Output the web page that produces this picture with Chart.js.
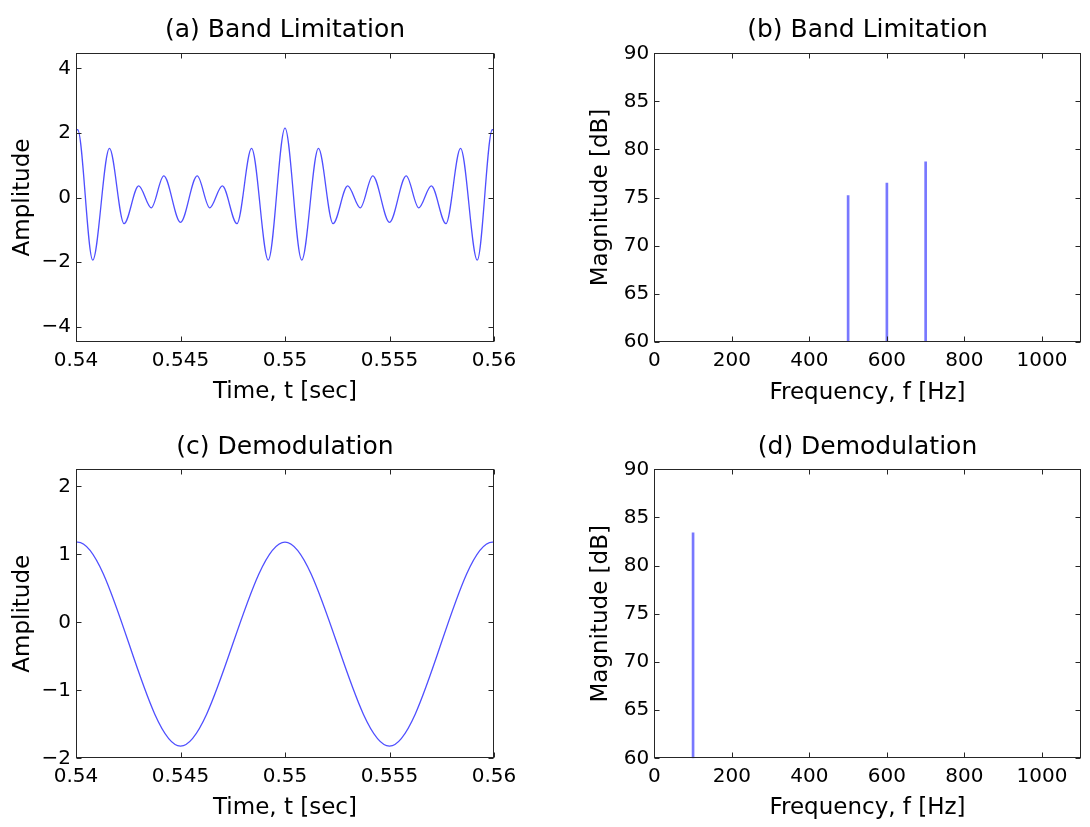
<!DOCTYPE html>
<html>
<head>
<meta charset="utf-8">
<title>Band Limitation / Demodulation</title>
<script src="https://cdn.jsdelivr.net/npm/chart.js@4.4.1/dist/chart.umd.min.js"></script>
<style>
  html, body { margin: 0; padding: 0; background: #fff; }
  #wrap { position: relative; width: 1090px; height: 827px; overflow: hidden; }
  canvas { position: absolute; }
</style>
</head>
<body>
<div id="wrap">
  <canvas id="pa" width="545" height="413" style="left:0;top:0;width:545px;height:413px"></canvas>
  <canvas id="pb" width="545" height="413" style="left:545px;top:0;width:545px;height:413px"></canvas>
  <canvas id="pc" width="545" height="414" style="left:0;top:413px;width:545px;height:414px"></canvas>
  <canvas id="pd" width="545" height="414" style="left:545px;top:413px;width:545px;height:414px"></canvas>
</div>
<script>
// ─── Data ────────────────────────────────────────────────────────────────────
const timeTicks      = [0.54, 0.545, 0.55, 0.555, 0.56];
const timeTickLabels = ['0.54', '0.545', '0.55', '0.555', '0.56'];
const freqTicks      = [0, 200, 400, 600, 800, 1000];
const dbTicks        = [60, 65, 70, 75, 80, 85, 90];
const ampTicksA      = [-4, -2, 0, 2, 4];
const ampTicksC      = [-2, -1, 0, 1, 2];

// (a) band-limited signal, peaks and troughs
const timeA = [0.54, 0.54008, 0.5408, 0.5416, 0.5423, 0.5430, 0.5436, 0.5442, 0.5450,
               0.5458, 0.5464, 0.5470, 0.5477, 0.5484, 0.5492, 0.5500,
               0.5508, 0.5516, 0.5523, 0.5530, 0.5536, 0.5542, 0.5550,
               0.5558, 0.5564, 0.5570, 0.5577, 0.5584, 0.5592, 0.55992, 0.56];
const ampA  = [2.1, 2.1, -1.94, 1.52, -0.81, 0.36, -0.32, 0.67, -0.77,
               0.67, -0.32, 0.36, -0.81, 1.52, -1.94, 2.15,
               -1.94, 1.52, -0.81, 0.36, -0.32, 0.67, -0.77,
               0.67, -0.32, 0.36, -0.81, 1.52, -1.94, 2.1, 2.1];

// (b) spectrum after band limitation
const freqB = [500, 600, 700];
const magB  = [75.2, 76.5, 78.7];

// (c) demodulated signal, peaks and troughs
const timeC = [0.54, 0.54008, 0.545, 0.55, 0.555, 0.55992, 0.56];
const ampC  = [1.18, 1.18, -1.82, 1.18, -1.82, 1.18, 1.18];

// (d) spectrum after demodulation
const freqD = [100];
const magD  = [83.4];

// axis limits
const timeRange = [0.54, 0.56];
const ampRangeA = [-4.47, 4.47];
const ampRangeC = [-2, 2.25];
const freqRange = [0, 1100];
const dbRange   = [60, 90];

// ─── Styling ─────────────────────────────────────────────────────────────────
const WAVE = 'rgba(30,30,255,0.78)';
const STEM = '#7878ff';
const AXIS = '#262626';
const TICK = 5;

Chart.defaults.font.family = "'DejaVu Sans', sans-serif";
Chart.defaults.color = '#000';

const minus = v => String(v).replace('-', '\u2212');

// MATLAB-like box with inward ticks on all four sides
const boxTicks = {
  id: 'boxTicks',
  afterDatasetsDraw(chart) {
    const { ctx, chartArea: a, scales: { x, y } } = chart;
    const L = Math.round(a.left) + 0.5, R = Math.round(a.right) - 0.5;
    const T = Math.round(a.top) + 0.5, B = Math.round(a.bottom) - 0.5;
    ctx.save();
    ctx.strokeStyle = AXIS;
    ctx.lineWidth = 1;
    ctx.beginPath();
    x.ticks.forEach(t => {
      const px = Math.round(x.getPixelForValue(t.value)) + 0.5;
      ctx.moveTo(px, B); ctx.lineTo(px, B - TICK);
      ctx.moveTo(px, T); ctx.lineTo(px, T + TICK);
    });
    y.ticks.forEach(t => {
      const py = Math.round(y.getPixelForValue(t.value)) + 0.5;
      ctx.moveTo(L, py); ctx.lineTo(L + TICK, py);
      ctx.moveTo(R, py); ctx.lineTo(R - TICK, py);
    });
    ctx.stroke();
    ctx.strokeRect(L, T, R - L, B - T);
    ctx.restore();
  }
};

function axis(range, ticks, label, o) {
  return {
    type: 'linear',
    min: range[0],
    max: range[1],
    offset: false,
    afterBuildTicks: s => { s.ticks = ticks.map(v => ({ value: v })); },
    afterFit: s => { if (s.isHorizontal()) s.height = o.size; else s.width = o.size; },
    grid: { display: false, drawTicks: false, offset: false },
    border: { display: false },
    ticks: {
      autoSkip: false, maxRotation: 0, minRotation: 0,
      padding: o.pad, color: '#000', font: { size: 20 },
      callback: o.fmt,
    },
    title: { display: true, text: label, color: '#000', font: { size: 23 }, padding: o.titlePad },
  };
}

function panel(id, type, datasets, p) {
  return new Chart(document.getElementById(id), {
    type,
    data: { datasets },
    options: {
      responsive: false,
      animation: false,
      layout: { padding: { left: 0, right: p.right, top: 0, bottom: 0 } },
      plugins: {
        legend: { display: false },
        tooltip: { enabled: false },
        title: {
          display: true, text: p.title, color: '#000',
          fullSize: false,
          font: { size: 25, weight: 'normal', lineHeight: 1.2 },
          padding: p.titlePad,
        },
      },
      scales: { x: p.x, y: p.y },
    },
    plugins: [boxTicks],
  });
}

const waveSet = (t, v) => ({
  data: t.map((x, i) => ({ x, y: v[i] })),
  borderColor: WAVE,
  borderWidth: 1.3,
  pointRadius: 0,
  fill: false,
  cubicInterpolationMode: 'monotone',
});

const stemSet = (f, m) => ({
  data: f.map((x, i) => ({ x, y: m[i] })),
  backgroundColor: STEM,
  base: dbRange[0],
  barThickness: 2,
});

const timeFmt = (v, i) => timeTickLabels[i];

// ─── (a) ─────────────────────────────────────────────────────────────────────
panel('pa', 'line', [waveSet(timeA, ampA)], {
  title: '(a) Band Limitation', right: 51, titlePad: { top: 15, bottom: 8.3 },
  x: axis(timeRange, timeTicks, 'Time, t [sec]', { size: 71.3, pad: 7, fmt: timeFmt, titlePad: { top: 0, bottom: 7.2 } }),
  y: axis(ampRangeA, ampTicksA, 'Amplitude', { size: 76, pad: 5, fmt: minus, titlePad: { top: 9.2, bottom: 0 } }),
});

// ─── (b) ─────────────────────────────────────────────────────────────────────
panel('pb', 'bar', [stemSet(freqB, magB)], {
  title: '(b) Band Limitation', right: 9.3, titlePad: { top: 15, bottom: 8.3 },
  x: axis(freqRange, freqTicks, 'Frequency, f [Hz]', { size: 71.3, pad: 7, fmt: minus, titlePad: { top: 0, bottom: 6.5 } }),
  y: axis(dbRange, dbTicks, 'Magnitude [dB]', { size: 109.3, pad: 5, fmt: minus, titlePad: { top: 42.2, bottom: 0 } }),
});

// ─── (c) ─────────────────────────────────────────────────────────────────────
panel('pc', 'line', [waveSet(timeC, ampC)], {
  title: '(c) Demodulation', right: 51, titlePad: { top: 19, bottom: 7.3 },
  x: axis(timeRange, timeTicks, 'Time, t [sec]', { size: 68.7, pad: 6, fmt: timeFmt, titlePad: { top: 0, bottom: 5.2 } }),
  y: axis(ampRangeC, ampTicksC, 'Amplitude', { size: 76, pad: 5, fmt: minus, titlePad: { top: 9.2, bottom: 0 } }),
});

// ─── (d) ─────────────────────────────────────────────────────────────────────
panel('pd', 'bar', [stemSet(freqD, magD)], {
  title: '(d) Demodulation', right: 9.3, titlePad: { top: 19, bottom: 7.3 },
  x: axis(freqRange, freqTicks, 'Frequency, f [Hz]', { size: 68.7, pad: 6, fmt: minus, titlePad: { top: 0, bottom: 5.2 } }),
  y: axis(dbRange, dbTicks, 'Magnitude [dB]', { size: 109.3, pad: 5, fmt: minus, titlePad: { top: 42.2, bottom: 0 } }),
});
</script>
</body>
</html>
